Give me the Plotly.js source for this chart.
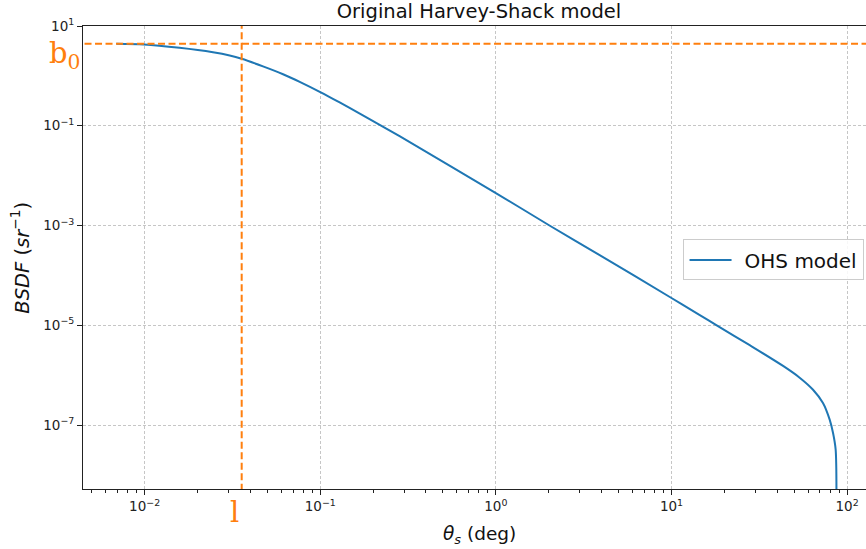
<!DOCTYPE html>
<html>
<head>
<meta charset="utf-8">
<script src="https://cdn.plot.ly/plotly-3.0.1.min.js"></script>
<style>
  html, body { margin: 0; padding: 0; overflow: hidden; background: #fff; }
  #chart { width: 880px; height: 549px; }
</style>
</head>
<body>
<div id="chart"></div>
<script>
// Scattering angle (deg) and BSDF (1/sr)
const theta = [0.0069, 0.0099, 0.0158, 0.0245, 0.0305, 0.0357, 0.0472, 0.0614, 0.0764, 0.1, 0.129, 0.167, 0.218, 0.283, 1.0, 2.02, 3.90, 10, 14.5, 18.0, 27.9, 43.2, 53.7, 64.0, 72.9, 79.6, 83.2, 86.1, 86.9];
const bsdf  = [4.40, 4.26, 3.65, 2.97, 2.56, 2.20, 1.55, 1.08, 0.76, 0.474, 0.293, 0.177, 0.1045, 0.0618, 0.00448, 0.001, 2.55e-4, 3.52e-5, 1.6e-5, 1.007e-5, 3.98e-6, 1.53e-6, 8.9e-7, 5.1e-7, 2.77e-7, 1.28e-7, 6.9e-8, 3.2e-8, 1e-9];

// Model parameters (guide lines)
const b0 = 4.4;
const lParam = 0.0357;

// Tick labels
const xTickVals = [1e-2, 1e-1, 1, 10, 100];
const xTickText = ['10<sup>−2</sup>', '10<sup>−1</sup>', '10<sup>0</sup>', '10<sup>1</sup>', '10<sup>2</sup>'];
const yTickVals = [10, 1e-1, 1e-3, 1e-5, 1e-7];
const yTickText = ['10<sup>1</sup>', '10<sup>−1</sup>', '10<sup>−3</sup>', '10<sup>−5</sup>', '10<sup>−7</sup>'];

const orange = '#ff7f0e';
const blue = '#1f77b4';
const font = 'DejaVu Sans, Liberation Sans, sans-serif';

const traces = [
  {
    x: theta, y: bsdf, type: 'scatter', mode: 'lines', name: 'OHS model',
    line: { color: blue, width: 2, shape: 'spline', smoothing: 0.8 }
  },
  {
    x: [1e-3, 1e3], y: [b0, b0], type: 'scatter', mode: 'lines', showlegend: false,
    line: { color: orange, width: 2, dash: '7px,3.5px' }, hoverinfo: 'skip'
  },
  {
    x: [lParam, lParam], y: [1e-10, 1e3], type: 'scatter', mode: 'lines', showlegend: false,
    line: { color: orange, width: 2, dash: '7px,3.5px' }, hoverinfo: 'skip'
  }
];

const axisCommon = {
  type: 'log',
  showline: true, linecolor: '#222', linewidth: 1, mirror: true,
  ticks: 'outside', ticklen: 5, tickwidth: 1, tickcolor: '#222',
  tickmode: 'array',
  tickfont: { family: font, size: 13.5, color: '#222' },
  showgrid: true, gridcolor: '#b8b8b8', gridwidth: 0.8, griddash: '3px,2px',
  zeroline: false
};

const layout = {
  width: 880, height: 549,
  margin: { l: 83, r: 5, t: 26, b: 60 },
  paper_bgcolor: '#fff', plot_bgcolor: '#fff',
  showlegend: true,
  title: {
    text: 'Original Harvey-Shack model',
    font: { family: font, size: 19.5, color: '#111' },
    x: 0.5, xref: 'paper', xanchor: 'center',
    y: 1 - 11.5 / 549, yref: 'container', yanchor: 'middle'
  },
  xaxis: Object.assign({}, axisCommon, {
    range: [-2.351, 2.159],
    tickvals: xTickVals, ticktext: xTickText,
    minor: { ticks: 'outside', ticklen: 3, tickwidth: 1, tickcolor: '#222', dtick: 'D1', showgrid: false }
  }),
  yaxis: Object.assign({}, axisCommon, {
    range: [-8.283, 1],
    tickvals: yTickVals, ticktext: yTickText
  }),
  legend: {
    x: 0.757, y: 0.539, xanchor: 'left', yanchor: 'top',
    itemwidth: 51,
    bgcolor: 'rgba(255,255,255,0.85)', bordercolor: '#cccccc', borderwidth: 1,
    font: { family: font, size: 20, color: '#111' }
  },
  annotations: [
    { text: '<i>θ<sub>s</sub></i> (deg)', xref: 'paper', yref: 'paper', x: 0.5, y: -0.0987,
      xanchor: 'center', yanchor: 'middle', showarrow: false,
      font: { family: font, size: 18.5, color: '#111' } },
    { text: '<i>BSDF</i> (<i>sr</i><sup>−1</sup>)', xref: 'paper', yref: 'paper', x: -0.0795, y: 0.4996,
      xanchor: 'center', yanchor: 'middle', textangle: -90, showarrow: false,
      font: { family: font, size: 19.5, color: '#111' } },
    { text: 'b<sub>0</sub>', xref: 'paper', yref: 'paper', x: (64.5 - 83) / 792, y: (489.3 - 55) / 463,
      xanchor: 'center', yanchor: 'middle', showarrow: false,
      font: { family: 'DejaVu Serif, Liberation Serif, serif', size: 29, color: orange } },
    { text: 'l', xref: 'paper', yref: 'paper', x: (234.3 - 83) / 792, y: (489.3 - 512) / 463,
      xanchor: 'center', yanchor: 'middle', showarrow: false,
      font: { family: 'DejaVu Serif, Liberation Serif, serif', size: 29, color: orange } }
  ]
};

Plotly.newPlot('chart', traces, layout, { displayModeBar: false, staticPlot: true }).then(function (gd) {
  // lengthen the legend line sample to match the reference
  var paths = gd.querySelectorAll('.legend .legendlines path');
  paths.forEach(function (p) { p.setAttribute('d', 'M6,0h42'); });
});
</script>
</body>
</html>
